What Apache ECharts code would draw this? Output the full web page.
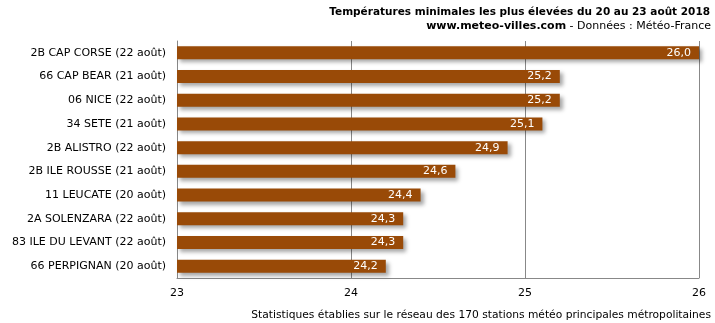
<!DOCTYPE html>
<html><head><meta charset="utf-8">
<script src="https://cdn.jsdelivr.net/npm/echarts@6/dist/echarts.min.js"></script>
<style>html,body{margin:0;padding:0;background:#fff}#c{width:715px;height:323px}</style>
</head><body><div id="c"></div>
<script>
const categories = ["2B CAP CORSE (22 août)","66 CAP BEAR (21 août)","06 NICE (22 août)","34 SETE (21 août)","2B ALISTRO (22 août)","2B ILE ROUSSE (21 août)","11 LEUCATE (20 août)","2A SOLENZARA (22 août)","83 ILE DU LEVANT (22 août)","66 PERPIGNAN (20 août)"];
const values = [26.0,25.2,25.2,25.1,24.9,24.6,24.4,24.3,24.3,24.2];
const axisMin = 23, axisMax = 26, axisStep = 1;
const FONT = "DejaVu Sans";
const chart = echarts.init(document.getElementById('c'), null, {renderer:'canvas'});
chart.setOption({
  animation:false,
  backgroundColor:'#fff',
  title:[{
    text:'Températures minimales les plus élevées du 20 au 23 août 2018',
    right:5, top:7, padding:0,
    textStyle:{fontFamily:FONT,fontSize:10.5,fontWeight:'bold',color:'#000'}
  },{
    text:'{b|www.meteo-villes.com}{n| - Données : Météo-France}',
    right:4, top:21, padding:0,
    textStyle:{fontFamily:FONT,fontSize:11,fontWeight:'normal',color:'#000',
      rich:{b:{fontFamily:FONT,fontSize:11,fontWeight:'bold',color:'#000'},
            n:{fontFamily:FONT,fontSize:11,fontWeight:'normal',color:'#000'}}}
  },{
    text:'Statistiques établies sur le réseau des 170 stations météo principales métropolitaines',
    right:4, top:310, padding:0,
    textStyle:{fontFamily:FONT,fontSize:10.7,fontWeight:'normal',color:'#000'}
  }],
  grid:{left:177,right:16,top:41,bottom:45,containLabel:false},
  xAxis:{type:'value',min:axisMin,max:axisMax,interval:axisStep,
    axisLine:{show:true,lineStyle:{color:'#888'}},axisTick:{show:false},
    axisLabel:{fontFamily:FONT,fontSize:11,color:'#000',margin:10,formatter:v=>String(v)},
    splitLine:{show:true,lineStyle:{color:'#888',width:1}}},
  yAxis:{type:'category',data:categories,inverse:true,
    axisLine:{show:true,lineStyle:{color:'#888'}},axisTick:{show:false},
    axisLabel:{fontFamily:FONT,fontSize:11,color:'#000',margin:11}},
  series:[{type:'bar',data:values,barWidth:13,
    itemStyle:{color:'#994a07',shadowColor:'rgba(0,0,0,0.35)',shadowBlur:4,shadowOffsetX:3,shadowOffsetY:3},
    label:{show:true,position:'insideRight',distance:8,color:'#fff',fontFamily:FONT,fontSize:11,
      formatter:p=>p.value.toFixed(1).replace('.',',')}
  }]
});
</script></body></html>
